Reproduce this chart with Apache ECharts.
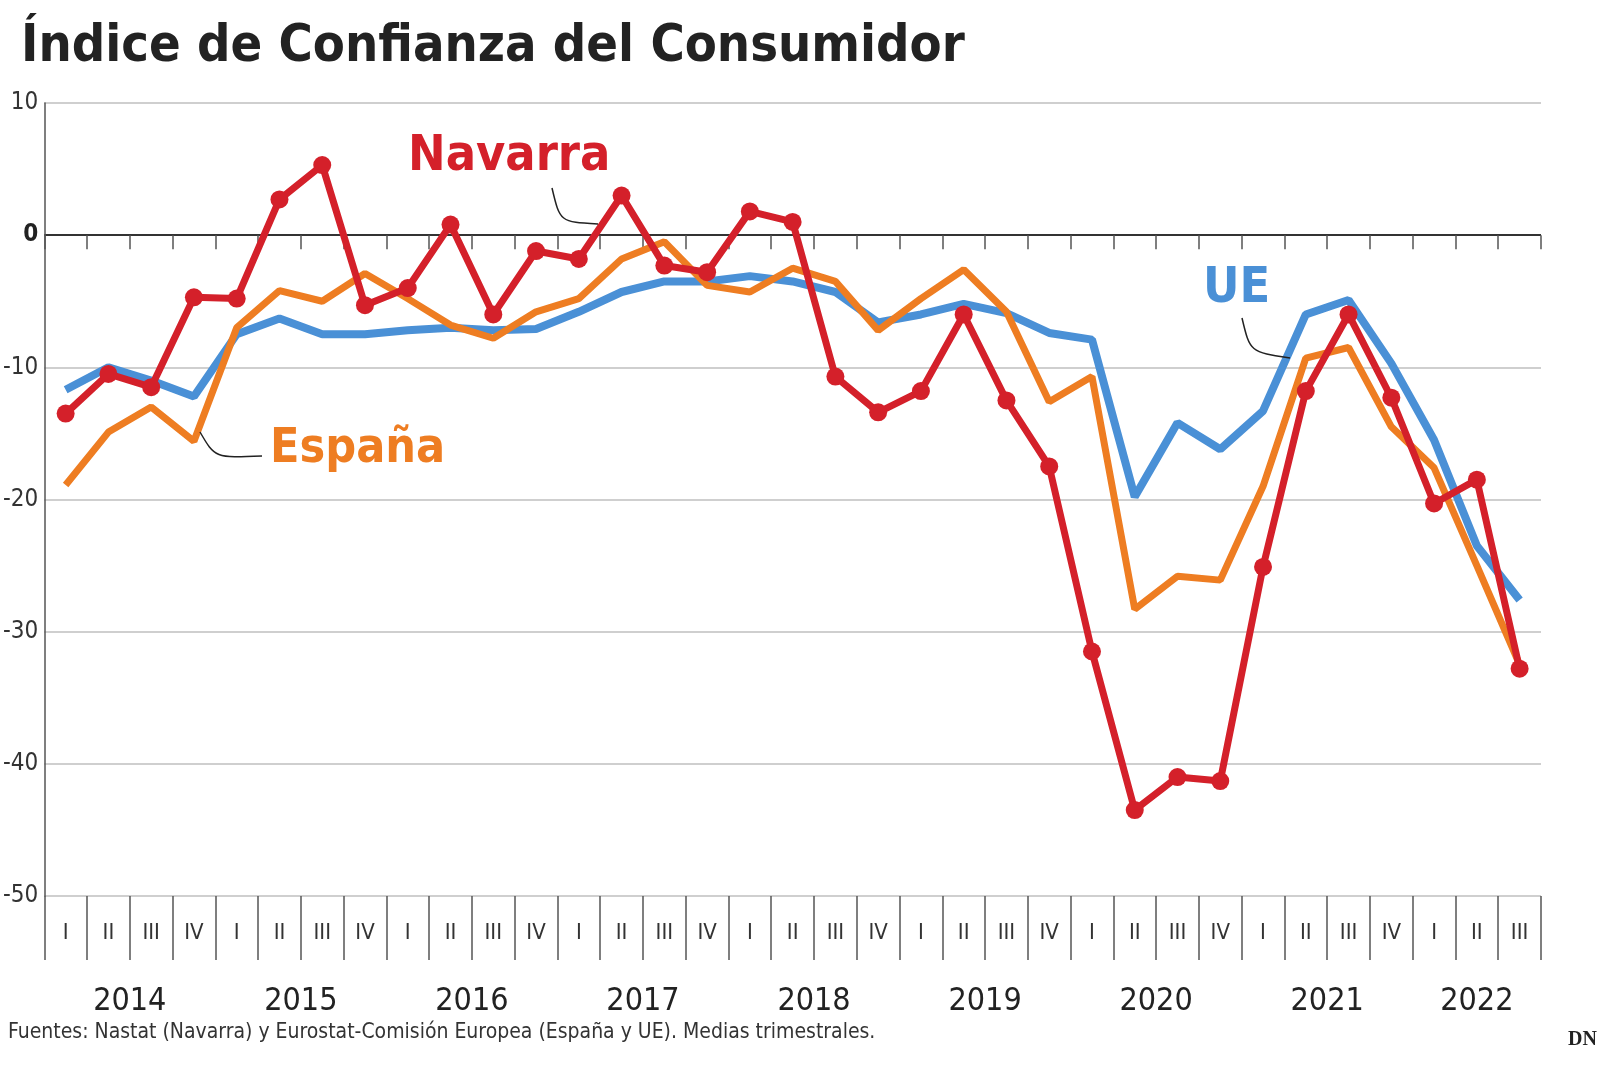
<!DOCTYPE html>
<html>
<head>
<meta charset="utf-8">
<title>Índice de Confianza del Consumidor</title>
<script src="https://cdn.jsdelivr.net/npm/echarts@6/dist/echarts.min.js"></script>
<style>
  html, body { margin: 0; padding: 0; background: #fff; }
  #main { width: 1597px; height: 1080px; }
</style>
</head>
<body>
<div id="main"></div>
<script>
// trimestres 2014 I .. 2022 III
var quarters = [];
var years = [2014, 2015, 2016, 2017, 2018, 2019, 2020, 2021, 2022];
years.forEach(function (y) {
  ['I', 'II', 'III', 'IV'].forEach(function (q) {
    if (!(y === 2022 && q === 'IV')) quarters.push(q);
  });
});

var navarra = [-13.5, -10.5, -11.5, -4.7, -4.8, 2.7, 5.3, -5.3, -4, 0.8, -6, -1.2,
  -1.8, 3, -2.3, -2.8, 1.8, 1, -10.7, -13.4, -11.8, -6, -12.5, -17.5,
  -31.5, -43.5, -41, -41.3, -25.1, -11.8, -6, -12.3, -20.3, -18.5, -32.8];
var espana = [-18.9, -14.9, -13, -15.6, -7, -4.2, -5, -2.9, -4.8, -6.8, -7.8, -5.8,
  -4.8, -1.8, -0.5, -3.8, -4.3, -2.5, -3.5, -7.2, -4.8, -2.6, -5.8, -12.6,
  -10.7, -28.3, -25.8, -26.1, -19, -9.3, -8.5, -14.5, -17.6, -25, -32.5];
var ue = [-11.7, -10, -11, -12.2, -7.5, -6.3, -7.5, -7.5, -7.2, -7, -7.2, -7.1,
  -5.8, -4.3, -3.5, -3.5, -3.1, -3.5, -4.3, -6.6, -6, -5.2, -5.9, -7.4,
  -7.9, -19.8, -14.2, -16.2, -13.3, -6, -4.9, -9.7, -15.5, -23.5, -27.6];

var RED = '#d4202a', ORANGE = '#ee7d22', BLUE = '#4a90d6';
var FONT = '"DejaVu Sans Condensed", "Liberation Sans Narrow", sans-serif';

// curvas guía de las etiquetas
function leader(x1, y1, cx, cy, x2, y2) {
  return {
    type: 'bezierCurve', z: 10,
    shape: { x1: x1, y1: y1, cpx1: cx, cpy1: cy, cpx2: cx, cpy2: cy, x2: x2, y2: y2 },
    style: { stroke: '#222', lineWidth: 1.5, fill: 'none' }
  };
}

var chart = echarts.init(document.getElementById('main'));
chart.setOption({
  animation: false,
  title: {
    text: 'Índice de Confianza del Consumidor',
    left: 16, top: 16,
    textStyle: { fontFamily: FONT, fontWeight: 'bold', fontSize: 52, color: '#222' }
  },
  grid: { left: 40, top: 103, width: 1501, bottom: 184, containLabel: false },
  xAxis: [{
    type: 'category', data: quarters, boundaryGap: true,
    axisLine: { show: false, onZero: false },
    axisTick: { show: true, length: 64, lineStyle: { color: '#555', width: 1.5 } },
    axisLabel: { fontFamily: FONT, fontSize: 22, color: '#333', margin: 26 }
  }, {
    type: 'category', data: quarters, boundaryGap: true, position: 'top',
    axisLine: { show: false, onZero: true },
    axisTick: { show: true, inside: true, length: 14, lineStyle: { color: '#555', width: 1.5 } },
    axisLabel: { show: false }
  }, {
    type: 'value', position: 'bottom', min: 0, max: 35, interval: 0.5, offset: 82,
    axisLine: { show: false, onZero: false }, axisTick: { show: false }, splitLine: { show: false },
    axisLabel: {
      fontFamily: FONT, fontSize: 32, color: '#222',
      formatter: function (v) {
        if (v === 33.5) return '2022';
        if (v < 32 && v % 4 === 2) return String(2014 + (v - 2) / 4);
        return '';
      }
    }
  }],
  yAxis: {
    type: 'value', min: -50, max: 10, interval: 10,
    axisLine: { show: true, lineStyle: { color: '#555', width: 1.5 } },
    axisTick: { show: false },
    axisLabel: {
      fontFamily: FONT, fontSize: 24, color: '#333', margin: 6,
      formatter: function (v) { return v === 0 ? '{z|0}' : String(v); },
      rich: { z: { fontFamily: FONT, fontSize: 24, fontWeight: 'bold', color: '#222' } }
    },
    splitLine: { lineStyle: { color: ['#cfcfcf', '#cfcfcf', '#cfcfcf', '#cfcfcf', '#cfcfcf', '#333', '#cfcfcf'], width: 2 } }
  },
  series: [{
    name: 'UE', type: 'line', data: ue, symbol: 'none', z: 2,
    lineStyle: { color: BLUE, width: 8 }
  }, {
    name: 'España', type: 'line', data: espana, symbol: 'none', z: 3,
    lineStyle: { color: ORANGE, width: 7 }
  }, {
    name: 'Navarra', type: 'line', data: navarra, symbol: 'circle', symbolSize: 18, z: 4,
    itemStyle: { color: RED }, lineStyle: { color: RED, width: 7 }
  }],
  graphic: [
    { type: 'text', left: 408, top: 132, style: { text: 'Navarra', fill: RED, font: 'bold 50px ' + FONT } },
    { type: 'text', left: 270, top: 426, style: { text: 'España', fill: ORANGE, font: 'bold 48px ' + FONT } },
    { type: 'text', left: 1203, top: 264, style: { text: 'UE', fill: BLUE, font: 'bold 50px ' + FONT } },
    leader(552, 188, 560, 222, 598, 224),
    leader(200, 432, 215, 458, 262, 456),
    leader(1242, 318, 1250, 352, 1290, 358),
    { type: 'text', left: 8, top: 1022, style: { text: 'Fuentes: Nastat (Navarra) y Eurostat-Comisión Europea (España y UE). Medias trimestrales.', fill: '#333', font: '21px ' + FONT } },
    { type: 'text', right: 0, top: 1030, style: { text: 'DN', fill: '#222', font: 'bold 20px "Liberation Serif", serif' } }
  ]
});
</script>
</body>
</html>
